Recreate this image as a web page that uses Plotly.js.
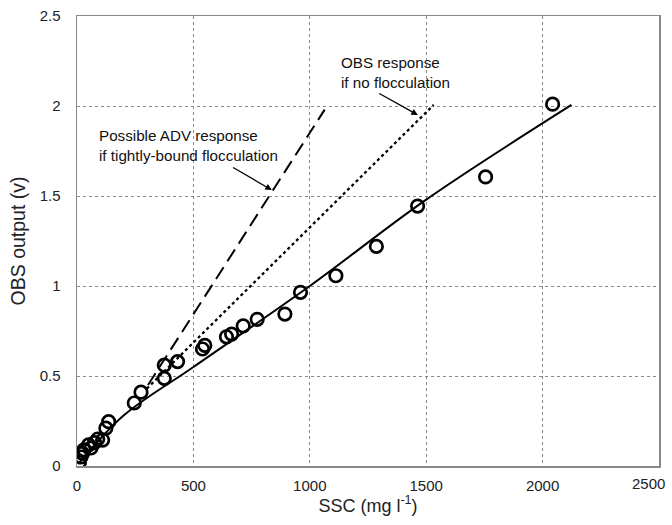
<!DOCTYPE html>
<html>
<head>
<meta charset="utf-8">
<script src="https://cdn.plot.ly/plotly-3.0.1.min.js"></script>
<style>html,body{margin:0;padding:0;background:#fff;}#chart{width:672px;height:525px;}</style>
</head>
<body>
<div id="chart"></div>
<script>
// Observed SSC (mg l-1) vs OBS output (v)
const sscObs = [10, 17, 24, 30, 50, 60, 75, 89, 110, 124, 136, 246, 275, 375, 375, 432, 539, 549, 642, 664, 714, 774, 893, 960, 1112, 1286, 1463, 1755, 2043];
const obsOut = [0.02, 0.05, 0.07, 0.09, 0.117, 0.10, 0.13, 0.15, 0.144, 0.21, 0.246, 0.35, 0.41, 0.487, 0.56, 0.58, 0.65, 0.67, 0.718, 0.733, 0.778, 0.815, 0.844, 0.965, 1.057, 1.22, 1.444, 1.606, 2.01];

// Fitted calibration line
const fitX = [5, 200, 500, 1000, 1500, 2124];
const fitY = [0.01, 0.28, 0.55, 1.0, 1.48, 2.006];

// Possible ADV response if tightly-bound flocculation (dashed)
const advX = [305, 1064];
const advY = [0.45, 1.98];

// OBS response if no flocculation (dotted)
const noFlocX = [300, 1532];
const noFlocY = [0.43, 2.006];

const xTicks = [0, 500, 1000, 1500, 2000, 2500];
const xTickText = ['0', '500', '1000', '1500', '2000', ''];
const lastXTickLabel = '2500';
const yTicks = [0, 0.5, 1, 1.5, 2, 2.5];

const font = 'Liberation Sans, Arial, sans-serif';

const traces = [
  {x: advX, y: advY, mode: 'lines', line: {color: '#000', width: 2, dash: '14px,7px'}, hoverinfo: 'skip'},
  {x: noFlocX, y: noFlocY, mode: 'lines', line: {color: '#000', width: 2.3, dash: 'dot'}, hoverinfo: 'skip'},
  {x: fitX, y: fitY, mode: 'lines', line: {color: '#000', width: 2, shape: 'spline'}, hoverinfo: 'skip'},
  {x: sscObs, y: obsOut, mode: 'markers', marker: {symbol: 'circle-open', size: 12.5, color: '#000', line: {color: '#000', width: 2.7}}}
];

const axisCommon = {
  showline: true, mirror: true, linecolor: '#8a8a8a', linewidth: 1.5,
  showgrid: true, gridcolor: '#8a8a8a', gridwidth: 1, griddash: 'dot',
  zeroline: false, ticks: '', tickfont: {family: font, size: 15, color: '#222'},
  fixedrange: true
};

const layout = {
  width: 672, height: 525,
  margin: {l: 77, r: 13, t: 16, b: 59},
  paper_bgcolor: '#fff', plot_bgcolor: '#fff',
  showlegend: false,
  font: {family: font, color: '#222'},
  xaxis: Object.assign({}, axisCommon, {
    range: [0, 2500], tickvals: xTicks, ticktext: xTickText,
    ticklabelstandoff: 5,
    title: {text: 'SSC (mg l<sup>-1</sup>)', font: {family: font, size: 18, color: '#222'}, standoff: 6}
  }),
  yaxis: Object.assign({}, axisCommon, {
    range: [0, 2.5], tickvals: yTicks, ticktext: yTicks.map(String),
    ticklabelstandoff: 12,
    title: {text: 'OBS output (v)', font: {family: font, size: 19.5, color: '#222'}, standoff: 9}
  }),
  annotations: [
    {x: 1.0137, y: -0.038, xref: 'paper', yref: 'paper', xanchor: 'right', yanchor: 'middle', showarrow: false,
     text: lastXTickLabel, font: {family: font, size: 15, color: '#222'}},
    {x: 86, y: 1.78, xref: 'x', yref: 'y', xanchor: 'left', yanchor: 'middle', align: 'left', showarrow: false,
     text: 'Possible ADV response<br>if tightly-bound flocculation', font: {family: font, size: 15.2, color: '#111'}},
    {x: 1124, y: 2.186, xref: 'x', yref: 'y', xanchor: 'left', yanchor: 'middle', align: 'left', showarrow: false,
     text: 'OBS response<br>if no flocculation', font: {family: font, size: 15.2, color: '#111'}},
    {x: 837, y: 1.533, ax: 664, ay: 1.663, xref: 'x', yref: 'y', axref: 'x', ayref: 'y', text: '', showarrow: true,
     arrowhead: 2, arrowsize: 1, arrowwidth: 1.3, arrowcolor: '#000'},
    {x: 1464, y: 1.95, ax: 1292, ay: 2.074, xref: 'x', yref: 'y', axref: 'x', ayref: 'y', text: '', showarrow: true,
     arrowhead: 2, arrowsize: 1, arrowwidth: 1.3, arrowcolor: '#000'}
  ]
};

Plotly.newPlot('chart', traces, layout, {displayModeBar: false, staticPlot: true});
</script>
</body>
</html>
